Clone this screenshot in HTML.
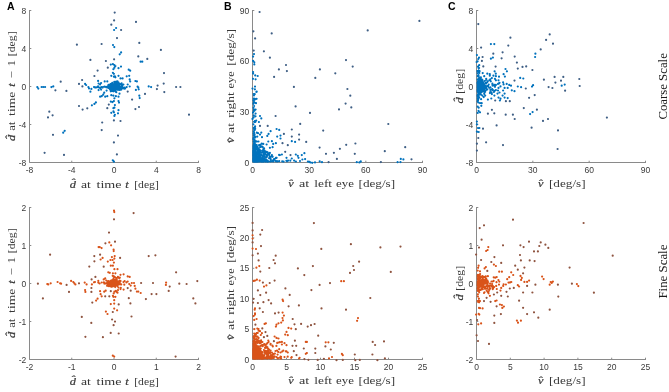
<!DOCTYPE html>
<html><head><meta charset="utf-8"><style>
html,body{margin:0;padding:0;background:#fff;width:669px;height:392px;overflow:hidden}
svg{display:block;will-change:transform}
.tk{font-family:"Liberation Sans",sans-serif;font-size:8.5px;fill:#3a3a3a}
.pl{font-family:"Liberation Sans",sans-serif;font-size:10.5px;font-weight:bold;fill:#000}
.lb{font-family:"Liberation Serif",serif;font-size:11px;fill:#383838}
.it{font-style:italic;stroke:#383838;stroke-width:0.22px}
.rs{font-size:11.5px;fill:#1a1a1a}
</style></head><body>
<svg width="669" height="392" viewBox="0 0 669 392">
<rect width="100%" height="100%" fill="#fff"/>
<path d="M29.5 10.0V162.5H199.0" fill="none" stroke="#8a8a8a" stroke-width="1"/>
<path d="M29.50 162.5v-1.8M71.75 162.5v-1.8M114.00 162.5v-1.8M156.25 162.5v-1.8M198.50 162.5v-1.8M29.5 162.50h1.8M29.5 124.50h1.8M29.5 86.50h1.8M29.5 48.50h1.8M29.5 10.50h1.8" fill="none" stroke="#8a8a8a" stroke-width="1"/>
<text x="29.50" y="172.70" text-anchor="middle" class="tk">-8</text>
<text x="71.75" y="172.70" text-anchor="middle" class="tk">-4</text>
<text x="114.00" y="172.70" text-anchor="middle" class="tk">0</text>
<text x="156.25" y="172.70" text-anchor="middle" class="tk">4</text>
<text x="198.50" y="172.70" text-anchor="middle" class="tk">8</text>
<text x="26.30" y="165.60" text-anchor="end" class="tk">-8</text>
<text x="26.30" y="127.60" text-anchor="end" class="tk">-4</text>
<text x="26.30" y="89.60" text-anchor="end" class="tk">0</text>
<text x="26.30" y="51.60" text-anchor="end" class="tk">4</text>
<text x="26.30" y="13.60" text-anchor="end" class="tk">8</text>
<path d="M252.5 10.0V162.5H423.0" fill="none" stroke="#8a8a8a" stroke-width="1"/>
<path d="M252.50 162.5v-1.8M309.17 162.5v-1.8M365.83 162.5v-1.8M422.50 162.5v-1.8M252.5 162.50h1.8M252.5 111.83h1.8M252.5 61.17h1.8M252.5 10.50h1.8" fill="none" stroke="#8a8a8a" stroke-width="1"/>
<text x="252.50" y="172.70" text-anchor="middle" class="tk">0</text>
<text x="309.17" y="172.70" text-anchor="middle" class="tk">30</text>
<text x="365.83" y="172.70" text-anchor="middle" class="tk">60</text>
<text x="422.50" y="172.70" text-anchor="middle" class="tk">90</text>
<text x="249.30" y="165.60" text-anchor="end" class="tk">0</text>
<text x="249.30" y="114.93" text-anchor="end" class="tk">30</text>
<text x="249.30" y="64.27" text-anchor="end" class="tk">60</text>
<text x="249.30" y="13.60" text-anchor="end" class="tk">90</text>
<path d="M476.5 10.0V162.5H646.0" fill="none" stroke="#8a8a8a" stroke-width="1"/>
<path d="M476.50 162.5v-1.8M532.83 162.5v-1.8M589.17 162.5v-1.8M645.50 162.5v-1.8M476.5 162.50h1.8M476.5 124.50h1.8M476.5 86.50h1.8M476.5 48.50h1.8M476.5 10.50h1.8" fill="none" stroke="#8a8a8a" stroke-width="1"/>
<text x="476.50" y="172.70" text-anchor="middle" class="tk">0</text>
<text x="532.83" y="172.70" text-anchor="middle" class="tk">30</text>
<text x="589.17" y="172.70" text-anchor="middle" class="tk">60</text>
<text x="645.50" y="172.70" text-anchor="middle" class="tk">90</text>
<text x="473.30" y="165.60" text-anchor="end" class="tk">-8</text>
<text x="473.30" y="127.60" text-anchor="end" class="tk">-4</text>
<text x="473.30" y="89.60" text-anchor="end" class="tk">0</text>
<text x="473.30" y="51.60" text-anchor="end" class="tk">4</text>
<text x="473.30" y="13.60" text-anchor="end" class="tk">8</text>
<path d="M29.5 207.0V359.5H199.0" fill="none" stroke="#8a8a8a" stroke-width="1"/>
<path d="M29.50 359.5v-1.8M71.75 359.5v-1.8M114.00 359.5v-1.8M156.25 359.5v-1.8M198.50 359.5v-1.8M29.5 359.50h1.8M29.5 321.50h1.8M29.5 283.50h1.8M29.5 245.50h1.8M29.5 207.50h1.8" fill="none" stroke="#8a8a8a" stroke-width="1"/>
<text x="29.50" y="369.70" text-anchor="middle" class="tk">-2</text>
<text x="71.75" y="369.70" text-anchor="middle" class="tk">-1</text>
<text x="114.00" y="369.70" text-anchor="middle" class="tk">0</text>
<text x="156.25" y="369.70" text-anchor="middle" class="tk">1</text>
<text x="198.50" y="369.70" text-anchor="middle" class="tk">2</text>
<text x="26.30" y="362.60" text-anchor="end" class="tk">-2</text>
<text x="26.30" y="324.60" text-anchor="end" class="tk">-1</text>
<text x="26.30" y="286.60" text-anchor="end" class="tk">0</text>
<text x="26.30" y="248.60" text-anchor="end" class="tk">1</text>
<text x="26.30" y="210.60" text-anchor="end" class="tk">2</text>
<path d="M252.5 207.0V359.5H423.0" fill="none" stroke="#8a8a8a" stroke-width="1"/>
<path d="M252.50 359.5v-1.8M286.50 359.5v-1.8M320.50 359.5v-1.8M354.50 359.5v-1.8M388.50 359.5v-1.8M422.50 359.5v-1.8M252.5 359.50h1.8M252.5 329.10h1.8M252.5 298.70h1.8M252.5 268.30h1.8M252.5 237.90h1.8M252.5 207.50h1.8" fill="none" stroke="#8a8a8a" stroke-width="1"/>
<text x="252.50" y="369.70" text-anchor="middle" class="tk">0</text>
<text x="286.50" y="369.70" text-anchor="middle" class="tk">5</text>
<text x="320.50" y="369.70" text-anchor="middle" class="tk">10</text>
<text x="354.50" y="369.70" text-anchor="middle" class="tk">15</text>
<text x="388.50" y="369.70" text-anchor="middle" class="tk">20</text>
<text x="422.50" y="369.70" text-anchor="middle" class="tk">25</text>
<text x="249.30" y="362.60" text-anchor="end" class="tk">0</text>
<text x="249.30" y="332.20" text-anchor="end" class="tk">5</text>
<text x="249.30" y="301.80" text-anchor="end" class="tk">10</text>
<text x="249.30" y="271.40" text-anchor="end" class="tk">15</text>
<text x="249.30" y="241.00" text-anchor="end" class="tk">20</text>
<text x="249.30" y="210.60" text-anchor="end" class="tk">25</text>
<path d="M476.5 207.0V359.5H646.0" fill="none" stroke="#8a8a8a" stroke-width="1"/>
<path d="M476.50 359.5v-1.8M510.30 359.5v-1.8M544.10 359.5v-1.8M577.90 359.5v-1.8M611.70 359.5v-1.8M645.50 359.5v-1.8M476.5 359.50h1.8M476.5 321.50h1.8M476.5 283.50h1.8M476.5 245.50h1.8M476.5 207.50h1.8" fill="none" stroke="#8a8a8a" stroke-width="1"/>
<text x="476.50" y="369.70" text-anchor="middle" class="tk">0</text>
<text x="510.30" y="369.70" text-anchor="middle" class="tk">5</text>
<text x="544.10" y="369.70" text-anchor="middle" class="tk">10</text>
<text x="577.90" y="369.70" text-anchor="middle" class="tk">15</text>
<text x="611.70" y="369.70" text-anchor="middle" class="tk">20</text>
<text x="645.50" y="369.70" text-anchor="middle" class="tk">25</text>
<text x="473.30" y="362.60" text-anchor="end" class="tk">-2</text>
<text x="473.30" y="324.60" text-anchor="end" class="tk">-1</text>
<text x="473.30" y="286.60" text-anchor="end" class="tk">0</text>
<text x="473.30" y="248.60" text-anchor="end" class="tk">1</text>
<text x="473.30" y="210.60" text-anchor="end" class="tk">2</text>
<text x="7" y="10" class="pl">A</text>
<text x="224" y="10" class="pl">B</text>
<text x="448" y="10" class="pl">C</text>
<text transform="translate(72.95 187.80) scale(1.13 1)" text-anchor="middle" class="lb it">d&#770;</text>
<text x="81.00" y="187.80" textLength="9.90" lengthAdjust="spacingAndGlyphs" class="lb">at</text>
<text x="96.54" y="187.80" textLength="25.04" lengthAdjust="spacingAndGlyphs" class="lb">time</text>
<text transform="translate(127.00 187.80) scale(1.13 1)" text-anchor="middle" class="lb it">t</text>
<text x="134.20" y="187.80" textLength="24.60" lengthAdjust="spacingAndGlyphs" class="lb">[deg]</text>
<text transform="translate(291.05 186.80) scale(1.13 1)" text-anchor="middle" class="lb it">v&#770;</text>
<text x="298.98" y="186.80" textLength="10.26" lengthAdjust="spacingAndGlyphs" class="lb">at</text>
<text x="314.20" y="186.80" textLength="17.92" lengthAdjust="spacingAndGlyphs" class="lb">left</text>
<text x="335.98" y="186.80" textLength="17.92" lengthAdjust="spacingAndGlyphs" class="lb">eye</text>
<text x="358.54" y="186.80" textLength="36.60" lengthAdjust="spacingAndGlyphs" class="lb">[deg/s]</text>
<text transform="translate(540.80 186.80) scale(1.13 1)" text-anchor="middle" class="lb it">v&#770;</text>
<text x="548.98" y="186.80" textLength="36.60" lengthAdjust="spacingAndGlyphs" class="lb">[deg/s]</text>
<text transform="translate(15.20 138.00) rotate(-90) scale(1.13 1)" text-anchor="middle" class="lb it">d&#770;</text>
<text transform="translate(15.20 130.78) rotate(-90)" textLength="9.12" lengthAdjust="spacingAndGlyphs" class="lb">at</text>
<text transform="translate(15.20 115.90) rotate(-90)" textLength="24.24" lengthAdjust="spacingAndGlyphs" class="lb">time</text>
<text transform="translate(15.20 85.00) rotate(-90) scale(1.13 1)" text-anchor="middle" class="lb it">t</text>
<text transform="translate(15.20 74.80) rotate(-90) scale(1.13 1)" text-anchor="middle" class="lb">&#8722;</text>
<text transform="translate(15.20 63.25) rotate(-90) scale(1.13 1)" text-anchor="middle" class="lb">1</text>
<text transform="translate(15.20 56.24) rotate(-90)" textLength="24.82" lengthAdjust="spacingAndGlyphs" class="lb">[deg]</text>
<text transform="translate(234.30 140.25) rotate(-90) scale(1.13 1)" text-anchor="middle" class="lb it">v&#770;</text>
<text transform="translate(234.30 132.90) rotate(-90)" textLength="10.02" lengthAdjust="spacingAndGlyphs" class="lb">at</text>
<text transform="translate(234.30 117.80) rotate(-90)" textLength="25.60" lengthAdjust="spacingAndGlyphs" class="lb">right</text>
<text transform="translate(234.30 88.46) rotate(-90)" textLength="17.24" lengthAdjust="spacingAndGlyphs" class="lb">eye</text>
<text transform="translate(234.30 65.70) rotate(-90)" textLength="36.62" lengthAdjust="spacingAndGlyphs" class="lb">[deg/s]</text>
<text transform="translate(462.80 100.50) rotate(-90) scale(1.13 1)" text-anchor="middle" class="lb it">d&#770;</text>
<text transform="translate(462.80 93.80) rotate(-90)" textLength="24.94" lengthAdjust="spacingAndGlyphs" class="lb">[deg]</text>
<text transform="translate(72.95 384.80) scale(1.13 1)" text-anchor="middle" class="lb it">d&#770;</text>
<text x="81.00" y="384.80" textLength="9.90" lengthAdjust="spacingAndGlyphs" class="lb">at</text>
<text x="96.54" y="384.80" textLength="25.04" lengthAdjust="spacingAndGlyphs" class="lb">time</text>
<text transform="translate(127.00 384.80) scale(1.13 1)" text-anchor="middle" class="lb it">t</text>
<text x="134.20" y="384.80" textLength="24.60" lengthAdjust="spacingAndGlyphs" class="lb">[deg]</text>
<text transform="translate(291.05 383.80) scale(1.13 1)" text-anchor="middle" class="lb it">v&#770;</text>
<text x="298.98" y="383.80" textLength="10.26" lengthAdjust="spacingAndGlyphs" class="lb">at</text>
<text x="314.20" y="383.80" textLength="17.92" lengthAdjust="spacingAndGlyphs" class="lb">left</text>
<text x="335.98" y="383.80" textLength="17.92" lengthAdjust="spacingAndGlyphs" class="lb">eye</text>
<text x="358.54" y="383.80" textLength="36.60" lengthAdjust="spacingAndGlyphs" class="lb">[deg/s]</text>
<text transform="translate(540.80 383.80) scale(1.13 1)" text-anchor="middle" class="lb it">v&#770;</text>
<text x="548.98" y="383.80" textLength="36.60" lengthAdjust="spacingAndGlyphs" class="lb">[deg/s]</text>
<text transform="translate(15.20 335.00) rotate(-90) scale(1.13 1)" text-anchor="middle" class="lb it">d&#770;</text>
<text transform="translate(15.20 327.78) rotate(-90)" textLength="9.12" lengthAdjust="spacingAndGlyphs" class="lb">at</text>
<text transform="translate(15.20 312.90) rotate(-90)" textLength="24.24" lengthAdjust="spacingAndGlyphs" class="lb">time</text>
<text transform="translate(15.20 282.00) rotate(-90) scale(1.13 1)" text-anchor="middle" class="lb it">t</text>
<text transform="translate(15.20 271.80) rotate(-90) scale(1.13 1)" text-anchor="middle" class="lb">&#8722;</text>
<text transform="translate(15.20 260.25) rotate(-90) scale(1.13 1)" text-anchor="middle" class="lb">1</text>
<text transform="translate(15.20 253.24) rotate(-90)" textLength="24.82" lengthAdjust="spacingAndGlyphs" class="lb">[deg]</text>
<text transform="translate(234.30 337.25) rotate(-90) scale(1.13 1)" text-anchor="middle" class="lb it">v&#770;</text>
<text transform="translate(234.30 329.90) rotate(-90)" textLength="10.02" lengthAdjust="spacingAndGlyphs" class="lb">at</text>
<text transform="translate(234.30 314.80) rotate(-90)" textLength="25.60" lengthAdjust="spacingAndGlyphs" class="lb">right</text>
<text transform="translate(234.30 285.46) rotate(-90)" textLength="17.24" lengthAdjust="spacingAndGlyphs" class="lb">eye</text>
<text transform="translate(234.30 262.70) rotate(-90)" textLength="36.62" lengthAdjust="spacingAndGlyphs" class="lb">[deg/s]</text>
<text transform="translate(462.80 297.50) rotate(-90) scale(1.13 1)" text-anchor="middle" class="lb it">d&#770;</text>
<text transform="translate(462.80 290.80) rotate(-90)" textLength="24.94" lengthAdjust="spacingAndGlyphs" class="lb">[deg]</text>
<text transform="translate(666.90 86.40) rotate(-90)" x="0" y="0" text-anchor="middle" textLength="66.40" lengthAdjust="spacingAndGlyphs" class="lb rs">Coarse Scale</text>
<text transform="translate(667.00 271.60) rotate(-90)" x="0" y="0" text-anchor="middle" textLength="54.00" lengthAdjust="spacingAndGlyphs" class="lb rs">Fine Scale</text>
<path d="M252.5 150.0 L254.5 150.0 L256.5 154.0 L260.0 158.0 L263.0 160.8 L265.0 161.6 L252.5 161.8Z" fill="#0072BD"/>
<path d="M252.5 348.0 L254.5 348.0 L256.5 352.0 L260.0 355.5 L263.0 358.0 L265.0 358.8 L252.5 358.8Z" fill="#D95319"/>
<path d="M116.1 28.0h0M114.1 30.0h0M113.0 45.0h0M114.3 47.1h0M121.1 52.4h0M119.7 54.3h0M140.6 61.7h0M142.3 61.7h0M37.3 87.1h0M38.3 88.6h0M41.6 87.0h0M43.3 87.0h0M45.1 87.0h0M51.4 87.1h0M53.3 86.4h0M85.1 83.9h0M86.1 85.0h0M88.4 87.1h0M89.0 88.4h0M90.4 91.7h0M91.4 88.9h0M94.0 87.0h0M95.0 87.4h0M96.1 87.4h0M97.6 87.1h0M91.9 105.3h0M94.4 103.9h0M95.9 102.4h0M110.8 64.6h0M112.9 64.1h0M114.4 65.1h0M115.4 66.1h0M114.4 67.7h0M113.4 69.2h0M118.5 68.2h0M121.0 66.6h0M128.7 69.7h0M130.2 70.7h0M112.9 72.8h0M113.9 73.8h0M111.3 75.8h0M114.9 76.3h0M118.5 75.8h0M115.4 77.3h0M120.5 78.4h0M122.6 78.4h0M126.7 76.3h0M129.2 75.8h0M129.7 79.4h0M130.2 81.4h0M98.1 80.9h0M98.6 83.5h0M100.1 84.5h0M101.1 83.0h0M104.7 81.4h0M107.3 81.4h0M117.5 81.4h0M99.1 87.6h0M98.6 90.1h0M101.1 89.6h0M127.7 84.5h0M129.7 86.5h0M126.7 87.0h0M124.6 87.6h0M120.5 88.6h0M104.2 92.7h0M103.2 94.7h0M100.1 96.7h0M101.7 96.2h0M105.2 96.7h0M107.3 96.2h0M111.3 95.2h0M113.4 95.7h0M114.4 98.3h0M115.9 96.2h0M119.5 93.7h0M118.5 96.7h0M135.4 81.0h0M136.9 81.4h0M137.6 86.7h0M138.3 87.4h0M135.9 89.9h0M138.7 89.3h0M148.7 86.4h0M151.1 87.1h0M139.3 95.7h0M139.7 98.1h0M110.8 101.6h0M112.4 102.1h0M113.9 101.1h0M118.5 101.1h0M119.0 102.6h0M114.9 105.1h0M113.4 108.2h0M114.4 107.7h0M118.5 110.2h0M111.3 112.8h0M113.4 111.3h0M113.9 112.3h0M118.0 113.3h0M114.4 115.9h0M114.9 114.8h0M63.2 132.7h0M64.7 130.8h0M112.8 160.3h0M113.9 161.7h0M119.5 89.9h0M114.6 85.6h0M109.9 87.2h0M110.2 84.4h0M115.1 87.4h0M116.5 85.4h0M114.3 87.0h0M108.3 88.1h0M115.6 91.6h0M115.1 86.8h0M119.2 87.5h0M117.9 86.4h0M115.2 89.0h0M117.1 87.3h0M110.0 87.9h0M114.6 88.5h0M115.2 89.2h0M114.1 87.5h0M117.0 85.0h0M112.7 86.1h0M122.2 86.9h0M116.9 88.3h0M113.2 84.2h0M118.2 86.3h0M117.2 84.6h0M112.5 89.5h0M120.0 84.6h0M109.0 87.0h0M117.2 87.4h0M115.5 85.2h0M116.6 89.2h0M112.6 84.4h0M111.3 88.5h0M107.4 86.9h0M110.3 86.9h0M113.3 87.1h0M120.3 87.9h0M119.6 86.8h0M112.4 87.8h0M103.0 87.0h0M114.9 84.8h0M116.2 86.0h0M104.5 86.7h0M110.4 86.1h0M113.7 89.5h0M114.7 87.0h0M115.9 83.7h0M119.3 85.1h0M116.1 85.0h0M110.4 86.3h0M121.9 88.4h0M111.9 86.6h0M109.7 87.0h0M112.0 88.5h0M108.9 86.5h0M110.9 85.7h0M117.1 87.3h0M116.6 89.4h0M118.9 84.5h0M116.4 83.8h0M114.0 90.7h0M113.5 86.4h0M115.0 87.1h0M114.4 85.7h0M118.6 88.8h0M113.5 87.7h0M116.9 89.1h0M115.9 88.4h0M113.2 85.1h0M112.3 89.0h0M118.2 87.4h0M112.0 87.7h0M121.0 89.7h0M111.6 87.0h0M108.5 84.9h0M115.1 87.1h0M118.2 89.5h0M117.6 89.6h0M112.1 85.0h0M116.3 92.2h0M115.7 84.9h0M115.3 89.8h0M110.2 88.6h0M111.9 89.5h0M117.4 87.7h0M122.3 86.3h0M111.6 90.6h0M110.8 91.3h0M114.1 85.1h0M114.3 87.3h0M115.1 86.7h0M118.6 82.7h0M112.1 86.6h0M121.6 83.3h0M112.9 84.9h0M111.6 88.3h0M115.9 89.8h0M111.9 87.6h0M119.0 88.8h0M113.0 89.2h0M110.6 90.5h0M114.9 86.9h0M115.4 88.7h0M121.3 86.8h0M112.8 88.2h0M110.8 83.9h0M117.6 86.4h0M118.8 85.1h0M102.7 87.6h0M114.9 90.1h0M116.4 87.7h0M116.6 86.4h0M114.6 84.5h0M116.4 85.6h0M112.5 88.4h0M118.0 85.2h0M122.3 86.0h0M117.6 88.9h0M115.2 87.4h0M121.5 88.8h0M116.1 83.6h0M111.3 89.3h0M115.1 85.3h0M111.7 86.5h0M117.0 87.8h0M118.3 85.5h0M118.2 86.1h0M113.1 90.4h0M114.6 86.8h0M113.5 86.4h0M120.5 89.7h0M117.2 87.4h0M118.5 87.0h0M116.1 87.9h0M114.7 90.2h0M121.3 89.6h0M106.6 90.6h0M117.1 86.2h0M114.2 89.3h0M119.0 88.7h0M114.9 87.2h0M117.6 86.9h0M110.7 85.9h0M113.7 87.7h0M123.4 84.5h0M116.2 86.9h0M115.5 89.7h0M119.3 86.8h0M112.1 84.5h0M114.0 89.5h0M113.2 88.4h0M117.1 87.9h0M118.6 86.9h0M111.0 84.9h0M118.0 86.4h0M113.1 88.7h0M111.1 90.5h0M117.0 86.1h0M111.8 89.2h0M109.6 85.9h0M114.3 87.5h0M114.4 87.8h0M112.8 86.9h0M119.4 88.3h0M112.5 90.4h0M106.3 87.3h0M117.0 88.9h0M114.7 86.4h0M116.6 86.7h0M116.2 81.7h0M115.8 85.6h0M118.1 88.5h0M117.2 86.3h0M116.0 86.4h0M115.2 86.8h0M110.8 90.9h0M117.2 83.2h0M117.9 84.5h0M113.4 86.0h0M112.2 87.6h0M113.0 84.3h0M114.3 87.8h0M121.4 86.3h0M109.5 86.4h0M116.9 85.4h0M111.4 88.2h0M114.3 87.5h0M111.8 85.5h0M113.0 86.8h0M113.0 87.9h0M116.5 88.1h0M116.2 85.4h0M109.8 88.6h0M114.4 87.3h0M109.7 86.7h0M111.7 85.5h0M111.8 84.3h0M114.6 89.3h0M111.5 87.3h0M109.9 88.4h0M121.8 84.8h0M113.4 89.8h0M115.8 87.3h0M106.1 86.8h0M118.0 89.8h0M116.9 86.0h0M111.6 83.6h0M110.0 89.2h0M113.8 84.6h0M119.6 83.9h0M119.3 86.5h0M115.7 88.4h0M115.3 89.5h0M114.4 86.5h0M111.7 84.4h0M111.5 89.0h0M117.6 89.7h0M125.2 88.5h0M116.3 84.6h0M113.3 91.3h0M117.7 87.0h0M116.3 85.2h0M108.9 85.8h0M100.4 87.9h0M120.6 86.9h0M116.6 86.1h0M117.2 87.9h0M124.3 88.7h0M117.5 87.0h0M108.9 86.5h0M118.3 87.7h0M114.4 88.8h0M118.5 87.1h0M113.1 87.2h0M108.1 86.1h0M116.6 86.5h0M112.5 88.3h0M113.0 88.4h0M114.2 88.6h0M117.3 85.3h0M122.3 86.9h0M101.5 87.2h0M115.3 85.8h0M110.4 87.6h0M123.5 88.2h0M122.2 88.2h0M98.1 86.4h0M115.5 84.4h0M119.3 88.0h0M109.3 86.7h0M113.1 87.0h0M114.0 87.1h0M113.0 88.5h0M113.7 90.4h0M114.3 81.9h0M112.6 87.3h0M113.5 88.7h0M114.8 87.2h0M112.3 82.9h0M114.6 83.4h0M115.1 86.8h0M114.5 84.0h0M113.9 76.7h0M113.8 89.1h0M113.1 84.2h0M113.9 87.3h0M113.2 89.5h0M112.4 91.0h0M112.6 84.2h0M115.3 83.6h0" stroke="#0072BD" stroke-width="2.2" stroke-linecap="round" fill="none"/>
<path d="M76.9 44.7h0M90.4 59.9h0M114.7 12.6h0M114.1 20.4h0M136.0 21.9h0M111.3 24.7h0M121.1 30.0h0M117.0 38.1h0M101.6 44.0h0M139.3 42.9h0M160.9 49.9h0M138.3 56.4h0M147.3 58.9h0M114.1 59.3h0M105.9 61.0h0M55.4 90.3h0M60.7 81.7h0M66.4 90.9h0M79.0 83.9h0M82.1 80.0h0M82.4 86.4h0M94.4 76.0h0M97.6 70.6h0M79.0 106.0h0M82.6 109.6h0M87.3 108.3h0M49.3 111.7h0M52.6 115.3h0M48.0 117.4h0M107.8 67.7h0M127.7 91.6h0M157.6 85.6h0M156.9 89.1h0M164.0 73.1h0M163.7 83.6h0M164.3 92.1h0M145.0 93.9h0M139.0 107.0h0M135.4 109.1h0M176.1 87.0h0M180.4 87.0h0M189.0 114.7h0M132.1 99.6h0M108.8 104.6h0M107.3 108.2h0M113.9 120.4h0M120.5 121.0h0M102.2 122.5h0M101.7 130.1h0M118.0 135.6h0M53.0 134.8h0M44.6 152.8h0M64.0 154.9h0M113.9 142.4h0M116.9 154.4h0" stroke="#3f5f85" stroke-width="2.2" stroke-linecap="round" fill="none"/>
<path d="M254.0 54.1h0M253.1 56.6h0M253.1 60.9h0M253.1 72.1h0M253.1 73.6h0M257.7 76.0h0M255.6 79.3h0M256.7 91.7h0M254.6 99.7h0M253.7 102.6h0M254.1 106.0h0M255.6 113.6h0M260.0 116.0h0M261.3 118.4h0M256.2 120.6h0M258.9 122.0h0M276.6 129.0h0M279.2 129.9h0M270.6 131.2h0M268.6 133.9h0M267.3 135.9h0M261.3 132.6h0M258.0 133.2h0M260.0 134.6h0M257.3 136.6h0M262.0 137.2h0M277.2 136.6h0M280.5 135.6h0M280.5 138.5h0M295.1 141.9h0M291.8 141.2h0M275.9 143.2h0M271.9 141.2h0M273.2 143.9h0M266.6 144.5h0M263.3 143.9h0M269.9 147.8h0M272.6 147.2h0M279.9 155.1h0M281.9 154.5h0M295.8 154.5h0M297.8 155.8h0M304.4 153.2h0M301.8 155.1h0M271.9 155.1h0M276.6 157.8h0M286.5 157.8h0M291.8 158.5h0M298.5 157.8h0M302.4 159.5h0M305.1 159.1h0M309.1 161.8h0M310.4 162.4h0M312.3 162.8h0M315.0 162.4h0M322.0 162.2h0M356.8 162.2h0M360.8 161.4h0M359.4 162.4h0M400.8 158.9h0M403.4 159.4h0M397.6 162.2h0M400.5 162.1h0M253.0 78.8h0M252.5 88.6h0M253.4 103.8h0M253.0 112.7h0M253.7 115.4h0M252.5 118.9h0M253.4 124.3h0M255.1 126.4h0M256.6 154.3h0M258.6 156.2h0M258.5 159.4h0M258.5 156.5h0M269.1 153.3h0M263.7 153.7h0M262.6 156.9h0M255.1 160.7h0M259.9 150.1h0M257.2 161.5h0M263.2 158.5h0M256.3 161.6h0M256.8 154.3h0M255.8 159.9h0M258.9 161.6h0M256.7 145.0h0M259.5 159.4h0M259.5 156.9h0M253.9 161.1h0M265.5 160.6h0M253.4 151.8h0M256.9 159.7h0M256.8 154.5h0M253.6 156.1h0M260.0 152.4h0M254.4 156.9h0M254.1 157.6h0M253.6 153.1h0M264.6 160.1h0M254.0 142.6h0M259.9 151.4h0M253.4 148.7h0M258.3 160.2h0M255.9 153.9h0M261.7 161.2h0M258.4 161.4h0M274.2 159.0h0M267.2 154.7h0M258.1 160.7h0M257.0 161.6h0M253.4 155.0h0M255.2 154.1h0M254.2 154.9h0M260.1 160.3h0M253.4 159.5h0M256.6 161.6h0M253.7 161.6h0M258.0 149.3h0M254.0 161.6h0M259.8 152.4h0M272.5 156.8h0M255.0 151.6h0M253.4 155.4h0M253.4 159.4h0M256.6 159.7h0M253.6 160.9h0M262.8 158.8h0M257.7 161.1h0M260.0 160.1h0M257.9 148.1h0M283.6 161.6h0M262.1 150.8h0M254.8 159.6h0M257.7 147.4h0M255.6 149.8h0M261.0 161.5h0M267.2 161.6h0M253.4 155.9h0M253.4 159.6h0M253.4 158.8h0M263.5 148.3h0M253.4 161.6h0M263.5 161.6h0M254.4 161.6h0M253.4 161.6h0M258.6 154.3h0M259.5 151.3h0M259.0 159.5h0M258.5 141.5h0M258.7 160.8h0M253.4 146.1h0M257.9 159.9h0M258.1 157.6h0M256.9 161.6h0M255.1 159.3h0M253.8 149.8h0M255.8 156.0h0M260.0 154.3h0M260.2 154.1h0M254.2 140.0h0M253.5 147.4h0M264.1 151.0h0M253.4 161.6h0M262.6 158.7h0M255.3 137.4h0M253.4 158.0h0M256.0 161.6h0M255.5 155.1h0M265.3 161.6h0M257.0 161.6h0M262.2 161.6h0M253.4 159.6h0M260.4 160.2h0M253.4 153.0h0M262.4 150.9h0M254.7 159.2h0M254.2 157.6h0M254.9 160.0h0M261.7 143.7h0M257.8 161.6h0M258.8 158.9h0M279.1 154.9h0M263.3 155.3h0M257.1 148.9h0M263.2 160.4h0M253.5 159.7h0M256.9 161.6h0M255.0 157.4h0M253.4 152.4h0M258.8 160.2h0M254.6 159.9h0M254.9 154.2h0M256.7 158.0h0M253.5 147.8h0M254.9 160.1h0M253.4 139.2h0M256.4 147.9h0M268.3 141.5h0M262.6 146.9h0M267.8 152.8h0M253.4 158.0h0M257.6 133.1h0M261.7 155.2h0M260.7 159.8h0M269.6 156.3h0M255.6 158.8h0M275.9 157.9h0M253.6 161.5h0M259.5 157.5h0M266.7 161.3h0M255.7 154.7h0M253.4 161.6h0M257.2 160.6h0M253.4 160.7h0M258.5 158.0h0M253.4 161.6h0M263.9 156.3h0M253.6 150.6h0M253.4 159.7h0M263.8 155.1h0M254.5 149.2h0M258.0 150.5h0M265.9 159.2h0M259.3 157.8h0M269.9 152.9h0M260.3 152.4h0M290.3 160.7h0M253.8 154.3h0M261.3 158.2h0M256.5 159.4h0M254.7 146.7h0M254.6 161.6h0M254.1 158.7h0M254.3 156.1h0M253.4 160.2h0M253.5 156.0h0M254.7 98.9h0M254.5 148.4h0M254.5 149.1h0M254.0 148.4h0M254.4 153.1h0M255.6 144.6h0M253.7 149.8h0M254.2 146.6h0M256.0 159.3h0M254.2 144.3h0M255.0 147.5h0M253.5 154.2h0M255.3 121.9h0M254.8 142.6h0M255.2 128.8h0M254.8 153.8h0M255.1 154.1h0M253.8 137.6h0M254.3 151.5h0M253.5 160.3h0M254.0 161.6h0M254.2 159.1h0M253.5 146.5h0M255.4 156.4h0M254.2 149.5h0M253.4 138.3h0M253.8 135.5h0M254.4 150.5h0M253.7 98.5h0M254.5 139.8h0M253.8 101.4h0M253.7 157.8h0M254.2 150.7h0M253.5 107.8h0M254.7 130.1h0M254.3 160.8h0M255.9 148.1h0M255.5 148.7h0M254.8 99.6h0M255.4 160.5h0M254.4 142.5h0M253.7 160.2h0M253.5 150.7h0M254.2 134.1h0M254.5 142.2h0M254.8 160.9h0M254.5 156.2h0M254.3 149.7h0M253.8 127.9h0M253.7 160.5h0M255.0 158.5h0M254.8 149.3h0M255.2 75.4h0M254.4 156.4h0M265.1 160.1h0M256.4 161.5h0M263.1 161.6h0M253.4 161.0h0M294.1 160.6h0M307.9 161.5h0M261.8 161.5h0M275.3 160.7h0M257.6 161.3h0M272.1 161.2h0M256.0 161.3h0M265.7 161.4h0M264.7 160.2h0M267.5 160.6h0M257.8 161.2h0M271.5 161.0h0M259.8 161.5h0M262.7 161.1h0M255.7 161.1h0M286.4 160.8h0M253.5 161.3h0M258.8 160.8h0M279.2 161.2h0M288.0 160.7h0M258.9 161.3h0M254.7 160.9h0M254.0 161.3h0M264.9 161.2h0M271.0 161.3h0M256.6 160.7h0M287.0 161.3h0M261.3 160.7h0M258.3 161.5h0M267.8 161.6h0M270.8 161.2h0M319.7 161.3h0M264.2 161.1h0M253.4 160.8h0M257.1 161.4h0M276.0 161.3h0M253.8 161.5h0M273.2 161.4h0M257.5 161.1h0M253.4 161.2h0M260.7 161.2h0M295.9 161.5h0M270.7 161.3h0M257.6 161.2h0M300.0 161.0h0M259.5 161.5h0M282.2 161.3h0M267.4 160.7h0M270.7 161.1h0M268.0 161.1h0M264.8 160.7h0M260.5 161.4h0M265.2 160.8h0M253.4 161.0h0M256.4 161.2h0M261.6 161.6h0M254.3 153.7h0M253.7 141.4h0M254.6 159.4h0M253.6 149.4h0M254.3 140.5h0M254.6 110.5h0M253.7 161.6h0M255.2 152.2h0M253.7 94.0h0M254.0 158.2h0M254.0 110.9h0M254.0 109.7h0M254.7 157.6h0M255.6 109.5h0M254.4 159.0h0M254.3 136.8h0M253.6 117.5h0M255.2 136.6h0M256.4 91.9h0M253.6 133.7h0M254.5 102.5h0M254.5 145.3h0M253.7 147.1h0M255.0 86.6h0M254.8 161.0h0M254.3 144.7h0M255.2 161.6h0M253.8 161.3h0M253.9 142.6h0M253.8 150.2h0M253.9 95.4h0M256.8 132.7h0M254.1 154.6h0M255.5 116.3h0M253.5 150.1h0M254.9 157.7h0M253.8 152.0h0M256.0 103.2h0M254.8 121.1h0M254.6 149.3h0M253.8 152.8h0M253.9 128.9h0M254.6 134.3h0M253.8 131.2h0M253.4 100.3h0M254.2 143.8h0M254.9 150.8h0M254.2 161.6h0M256.6 98.8h0M255.1 157.1h0M254.9 127.2h0M254.3 64.4h0M254.0 132.6h0M253.7 144.7h0M254.7 143.5h0M253.7 156.5h0M255.3 146.2h0M254.9 89.3h0M253.8 111.2h0M254.1 159.3h0M254.3 161.6h0M254.1 121.8h0M253.7 131.7h0M253.7 157.8h0M254.3 62.3h0M254.7 161.6h0M256.0 148.4h0M254.7 94.2h0M254.9 140.9h0M257.5 146.7h0M255.5 150.6h0M262.7 150.4h0M255.7 156.3h0M254.4 143.9h0M258.6 161.5h0M270.4 161.3h0M269.1 158.2h0M258.5 154.4h0M255.5 150.5h0M259.1 145.1h0M260.4 156.0h0M253.6 151.4h0M266.7 151.9h0M258.1 155.3h0M258.7 148.8h0M255.6 149.4h0M262.0 152.5h0M254.1 145.5h0M272.6 156.7h0M277.0 161.1h0M264.5 150.5h0M259.5 151.0h0M273.3 160.1h0M255.7 159.2h0M261.1 154.3h0M254.0 154.4h0M277.3 161.4h0M265.1 154.6h0M254.6 143.0h0M256.8 141.5h0M256.8 141.6h0M255.5 161.6h0M258.2 155.3h0M260.3 144.8h0M266.8 156.9h0M265.0 152.1h0M260.3 157.2h0M265.2 153.6h0M255.8 154.6h0M254.0 143.5h0M261.2 146.7h0M263.2 152.5h0M260.1 147.2h0M257.5 151.6h0M255.0 160.3h0M256.6 157.4h0M263.0 156.9h0M254.5 145.5h0M270.8 159.3h0M255.6 141.1h0M267.4 152.0h0M266.2 154.8h0M257.4 154.4h0M265.2 151.4h0M274.1 159.1h0M253.8 159.3h0M257.4 146.5h0M267.8 152.8h0M257.7 153.3h0M264.1 152.5h0M255.0 144.0h0M261.7 146.7h0M255.0 160.1h0M265.1 157.2h0M262.4 158.8h0M263.7 152.2h0M267.1 154.8h0M269.2 154.6h0M264.1 148.4h0M268.7 161.5h0M270.3 156.7h0M258.2 152.0h0M263.7 149.7h0M254.9 153.3h0M255.8 146.0h0M259.2 152.4h0M266.8 152.2h0M256.2 152.2h0M260.2 160.5h0M259.1 153.2h0M256.6 161.0h0M270.3 158.2h0M260.1 151.1h0M262.8 158.6h0M271.7 156.5h0M254.0 145.4h0M268.8 154.7h0M258.8 158.8h0M257.6 159.5h0M262.3 161.4h0M266.9 156.2h0M266.4 155.0h0M257.5 149.9h0M264.2 158.6h0" stroke="#0072BD" stroke-width="2.2" stroke-linecap="round" fill="none"/>
<path d="M259.6 12.0h0M253.4 31.3h0M271.7 33.4h0M255.1 38.4h0M253.7 50.6h0M263.9 51.3h0M269.9 57.7h0M419.4 20.9h0M367.7 30.4h0M346.0 60.1h0M286.0 65.0h0M278.9 69.4h0M286.9 71.1h0M274.1 76.9h0M319.9 69.4h0M315.3 77.9h0M335.3 73.3h0M293.9 86.9h0M295.6 106.4h0M310.0 112.9h0M352.7 66.6h0M347.4 89.0h0M350.3 95.7h0M345.6 103.6h0M351.3 107.4h0M339.0 109.4h0M275.6 116.0h0M300.2 123.9h0M260.0 125.9h0M267.7 125.9h0M291.8 129.5h0M283.9 133.9h0M291.8 136.6h0M299.1 134.6h0M299.1 139.6h0M306.2 141.9h0M282.5 143.2h0M287.8 145.2h0M285.2 151.8h0M290.5 155.1h0M323.2 130.6h0M319.6 147.6h0M326.0 153.8h0M333.9 152.8h0M336.9 158.9h0M339.9 148.8h0M346.2 144.8h0M355.4 143.5h0M354.8 153.8h0M328.6 162.2h0M388.3 124.0h0M405.2 147.2h0M384.8 151.2h0M411.5 159.3h0M380.9 162.1h0" stroke="#3f5f85" stroke-width="2.2" stroke-linecap="round" fill="none"/>
<path d="M490.9 44.1h0M494.3 44.1h0M476.9 55.1h0M535.4 53.7h0M479.0 57.7h0M490.9 58.7h0M492.9 57.6h0M535.1 57.0h0M477.6 61.3h0M476.6 62.0h0M505.5 69.0h0M506.9 71.3h0M494.6 71.3h0M520.2 77.9h0M504.9 76.6h0M533.1 85.2h0M517.8 86.5h0M521.1 87.2h0M511.8 90.3h0M514.5 91.2h0M499.9 100.5h0M487.9 99.6h0M491.3 98.5h0M481.3 105.8h0M480.0 103.1h0M482.7 73.1h0M487.3 73.7h0M489.8 74.2h0M489.8 75.7h0M484.2 76.2h0M493.4 75.7h0M495.9 76.2h0M499.0 76.7h0M486.2 78.8h0M490.3 79.3h0M494.9 78.8h0M495.9 80.3h0M498.5 80.3h0M487.8 81.3h0M490.8 81.3h0M492.4 84.9h0M494.4 84.9h0M495.9 84.9h0M498.0 83.9h0M499.5 82.8h0M503.1 82.3h0M503.6 84.4h0M506.7 83.9h0M509.2 84.9h0M500.5 86.4h0M498.5 87.9h0M504.6 87.9h0M507.7 87.9h0M495.9 90.0h0M492.4 90.0h0M490.3 92.0h0M493.9 92.0h0M498.0 90.5h0M503.1 90.5h0M499.5 92.5h0M491.9 94.1h0M494.4 95.6h0M497.5 93.6h0M504.6 93.6h0M502.6 95.6h0M498.5 97.6h0M500.5 98.7h0M504.6 97.6h0M507.7 98.1h0M485.2 95.6h0M483.7 97.1h0M481.1 99.2h0M481.7 103.2h0M564.7 84.6h0M561.7 85.7h0M532.0 86.6h0M532.6 112.1h0M480.0 112.3h0M530.1 114.1h0M476.9 121.6h0M476.9 124.4h0M478.0 128.0h0M479.4 128.0h0M476.9 131.6h0M478.7 132.0h0M479.2 93.7h0M490.5 87.4h0M485.2 85.5h0M478.5 84.4h0M482.4 95.6h0M478.2 83.6h0M480.4 83.4h0M482.7 86.9h0M486.4 86.3h0M481.4 81.7h0M481.0 84.6h0M482.4 86.6h0M478.0 85.0h0M480.2 84.4h0M480.9 77.3h0M478.5 88.5h0M477.6 90.2h0M478.6 86.3h0M479.3 78.5h0M481.5 81.3h0M478.8 83.4h0M479.8 86.4h0M479.3 89.0h0M479.2 90.3h0M478.3 88.6h0M478.1 84.1h0M480.3 90.7h0M480.7 82.0h0M481.8 86.2h0M478.5 88.9h0M479.0 86.5h0M478.1 91.2h0M478.0 87.2h0M482.8 89.6h0M480.1 88.4h0M484.2 90.8h0M480.4 83.8h0M478.3 86.0h0M480.7 92.8h0M477.8 90.1h0M482.0 83.2h0M480.5 90.9h0M478.0 85.8h0M478.5 86.9h0M479.1 86.0h0M491.5 92.4h0M479.0 88.6h0M481.6 85.0h0M479.0 85.7h0M483.2 86.9h0M478.3 84.3h0M482.9 87.9h0M480.5 82.7h0M478.5 83.2h0M477.8 88.7h0M483.0 84.4h0M487.6 86.0h0M483.8 86.0h0M480.8 87.3h0M479.9 89.7h0M478.0 91.9h0M483.1 84.1h0M479.1 88.9h0M481.6 86.3h0M478.5 89.0h0M478.3 87.2h0M482.2 84.2h0M480.6 90.1h0M478.6 83.7h0M485.7 83.1h0M479.8 93.0h0M482.3 79.8h0M479.3 87.0h0M483.3 88.8h0M478.0 83.5h0M477.7 85.8h0M478.4 89.2h0M485.9 83.2h0M485.2 91.7h0M477.7 90.2h0M479.4 78.8h0M480.5 90.4h0M478.3 82.8h0M478.3 86.9h0M479.0 94.5h0M482.4 80.1h0M477.8 90.5h0M483.3 85.0h0M478.2 91.9h0M478.7 93.5h0M477.7 76.2h0M483.4 87.1h0M479.2 93.6h0M483.5 86.9h0M480.9 81.0h0M479.6 92.0h0M486.3 79.7h0M479.7 84.7h0M479.4 84.5h0M478.1 85.5h0M480.4 88.9h0M484.0 84.9h0M482.6 87.8h0M499.0 83.5h0M482.6 85.6h0M480.3 86.4h0M477.6 89.9h0M479.1 85.3h0M480.2 84.1h0M479.7 83.6h0M480.8 89.4h0M479.8 84.0h0M482.9 89.3h0M478.9 87.2h0M478.4 88.8h0M478.0 86.0h0M478.8 80.5h0M495.0 86.8h0M483.7 86.4h0M477.8 86.6h0M480.8 88.4h0M488.7 84.6h0M480.2 82.7h0M477.8 85.0h0M478.2 89.8h0M477.9 86.1h0M478.7 86.8h0M478.4 84.4h0M478.6 81.4h0M478.7 87.9h0M484.2 93.8h0M477.8 86.2h0M478.8 93.6h0M478.1 84.0h0M479.5 83.3h0M477.7 91.7h0M478.8 87.2h0M477.7 79.7h0M480.4 83.4h0M479.4 80.9h0M489.2 87.8h0M478.0 88.9h0M480.4 89.2h0M478.3 89.2h0M477.8 90.4h0M488.2 86.4h0M481.7 88.8h0M477.6 95.4h0M490.4 89.9h0M480.2 87.8h0M477.6 87.3h0M483.0 85.7h0M477.7 84.8h0M478.7 86.8h0M479.8 84.7h0M481.0 89.8h0M478.3 89.5h0M478.7 92.2h0M486.2 83.5h0M477.7 89.0h0M477.7 91.2h0M481.1 90.3h0M487.3 82.1h0M478.9 89.5h0M477.8 82.3h0M482.8 89.9h0M487.3 89.5h0M480.2 83.2h0M479.8 81.8h0M480.3 88.0h0M483.8 83.3h0M483.3 88.5h0M481.2 82.6h0M482.8 86.5h0M480.6 87.0h0M480.6 90.3h0M477.8 79.9h0M478.4 89.2h0M479.5 84.6h0M481.4 79.4h0M480.7 84.3h0M480.9 89.8h0M479.0 87.3h0M482.1 86.7h0M481.9 87.0h0M478.9 87.8h0M480.4 88.9h0M478.3 80.1h0M477.9 95.1h0M480.9 94.6h0M478.0 83.9h0M480.6 78.7h0M478.4 92.6h0M478.2 85.9h0M482.3 82.5h0M479.1 87.1h0M478.7 83.3h0M479.6 89.3h0M484.0 89.3h0M486.5 88.3h0M480.6 83.4h0M478.5 83.8h0M479.2 87.7h0M492.2 89.2h0M482.0 87.3h0M481.5 87.1h0M478.8 81.8h0M477.7 87.3h0M479.1 80.3h0M479.9 84.8h0M478.8 83.4h0M478.7 84.3h0M480.1 87.1h0M478.8 87.7h0M477.9 83.0h0M484.1 87.4h0M482.0 87.2h0M478.6 76.3h0M479.1 87.4h0M479.9 88.9h0M479.9 92.8h0M489.9 93.1h0M477.8 88.5h0M481.8 87.2h0M483.7 87.6h0M480.1 87.4h0M478.9 87.7h0M478.4 87.3h0M478.3 85.9h0M478.5 91.6h0M477.7 96.2h0M478.2 79.9h0M478.6 81.4h0M478.1 99.1h0M478.2 87.5h0M478.7 68.3h0M477.7 95.2h0M478.0 83.1h0M478.2 59.0h0M478.7 107.7h0M477.8 90.0h0M477.8 99.1h0M478.5 78.5h0M478.0 66.7h0M478.1 93.0h0M477.6 79.7h0M479.3 79.1h0M477.8 97.9h0M477.6 101.3h0M477.6 90.2h0M477.6 95.8h0M478.2 99.1h0M478.6 72.0h0M479.1 68.0h0M478.4 96.2h0M477.7 112.9h0M479.2 65.2h0M478.0 82.4h0M479.2 97.6h0M478.5 75.2h0M479.6 71.2h0M477.6 73.1h0M478.5 90.1h0M478.5 96.2h0M478.1 87.4h0M478.2 102.4h0M478.7 70.7h0M478.3 99.1h0M478.0 81.2h0M478.8 95.8h0M477.7 106.7h0M478.5 110.9h0M478.0 100.4h0M479.6 77.6h0M479.3 73.0h0M486.5 89.8h0M483.4 87.9h0M511.0 85.7h0M480.8 82.4h0M503.6 74.2h0M492.9 85.7h0M489.5 80.1h0M480.6 79.9h0M478.3 87.8h0M479.8 85.8h0M484.9 90.3h0M479.6 85.4h0M492.4 83.5h0M480.9 91.7h0M477.7 95.0h0M477.4 83.0h0M478.1 90.1h0M495.0 90.6h0M478.5 87.0h0M483.0 91.4h0M495.8 73.7h0M483.5 83.1h0M481.8 91.8h0M482.5 80.6h0M483.0 82.4h0M477.9 91.3h0M479.1 86.6h0M479.2 83.1h0M478.7 85.1h0M480.9 87.7h0M484.8 81.0h0M478.0 75.5h0M485.6 88.1h0M484.1 91.5h0M491.9 78.0h0M477.4 71.0h0M480.3 84.7h0M477.7 86.5h0M481.0 83.3h0M477.9 85.1h0M480.4 85.9h0M523.3 78.5h0M484.7 92.3h0M482.5 81.3h0M481.6 88.2h0M485.9 87.2h0M493.0 90.1h0M480.5 86.8h0M480.3 88.6h0M480.2 82.3h0" stroke="#0072BD" stroke-width="2.2" stroke-linecap="round" fill="none"/>
<path d="M478.3 24.1h0M510.4 37.7h0M549.7 34.4h0M546.1 39.9h0M553.0 43.7h0M508.3 45.6h0M481.1 47.6h0M540.7 49.4h0M502.6 52.3h0M493.3 53.7h0M482.6 57.0h0M501.6 58.3h0M514.7 56.6h0M481.9 60.9h0M516.9 62.6h0M483.3 66.4h0M495.6 66.6h0M522.5 66.9h0M526.2 66.4h0M517.8 68.6h0M532.4 70.0h0M514.5 80.6h0M525.8 88.5h0M529.1 97.8h0M509.8 101.2h0M505.9 101.2h0M495.2 100.5h0M523.8 108.1h0M491.9 109.8h0M543.9 79.7h0M554.6 76.9h0M563.3 76.9h0M555.4 82.6h0M561.0 80.7h0M548.6 87.1h0M552.4 88.0h0M565.1 90.7h0M579.3 79.0h0M579.7 86.0h0M534.7 95.1h0M536.9 109.7h0M487.9 113.7h0M494.3 113.3h0M505.7 114.7h0M512.9 114.7h0M514.7 119.0h0M543.0 120.9h0M548.0 119.0h0M496.6 125.4h0M531.6 127.7h0M483.0 128.7h0M478.3 138.0h0M486.1 142.3h0M476.9 143.7h0M503.0 145.1h0M476.9 150.6h0M558.0 130.4h0M557.6 149.0h0M606.9 117.6h0" stroke="#3f5f85" stroke-width="2.2" stroke-linecap="round" fill="none"/>
<path d="M98.6 247.1h0M114.0 210.7h0M114.3 212.1h0M109.3 242.4h0M111.1 245.3h0M99.7 247.1h0M101.6 248.1h0M113.6 249.7h0M113.7 251.1h0M102.6 257.9h0M111.9 257.1h0M114.7 256.1h0M114.4 258.6h0M110.4 260.0h0M112.6 260.0h0M47.3 284.1h0M48.3 284.4h0M50.7 283.3h0M57.6 282.0h0M60.1 283.3h0M61.1 283.7h0M71.1 280.9h0M73.3 282.0h0M74.4 283.4h0M75.4 284.4h0M84.7 282.6h0M86.6 284.4h0M85.1 290.1h0M85.4 291.9h0M91.9 284.4h0M94.0 282.3h0M98.3 280.9h0M98.3 282.6h0M96.1 300.6h0M97.6 298.7h0M100.6 259.5h0M107.8 261.6h0M113.9 262.6h0M112.9 265.7h0M110.8 265.7h0M114.4 269.2h0M117.5 269.2h0M108.3 272.3h0M109.8 272.8h0M112.9 273.3h0M115.4 273.3h0M120.5 274.8h0M123.6 274.3h0M127.7 276.4h0M129.7 276.9h0M105.2 278.4h0M103.7 279.4h0M99.6 283.5h0M101.7 282.5h0M95.0 282.0h0M124.6 281.0h0M127.7 281.5h0M129.2 284.0h0M131.8 283.0h0M130.7 285.6h0M123.6 289.6h0M120.5 289.1h0M118.0 290.1h0M114.4 291.7h0M105.7 290.7h0M104.2 291.7h0M100.1 291.2h0M100.6 294.2h0M101.7 296.3h0M112.9 295.8h0M115.4 296.8h0M117.5 292.7h0M134.7 285.9h0M135.4 288.7h0M136.9 291.6h0M138.3 291.6h0M140.7 293.0h0M166.1 282.6h0M165.9 284.9h0M134.0 283.0h0M105.9 311.6h0M107.5 314.0h0M112.8 355.7h0M113.4 296.8h0M114.2 300.2h0M114.2 303.6h0M110.8 304.1h0M114.2 308.6h0M117.1 310.3h0M114.2 356.6h0M106.2 283.4h0M113.6 286.1h0M118.6 283.7h0M117.3 282.3h0M111.7 285.6h0M110.7 281.8h0M110.8 280.8h0M113.5 284.9h0M111.5 284.7h0M108.3 281.1h0M111.9 284.5h0M119.8 277.7h0M115.3 286.7h0M115.1 286.8h0M119.2 283.7h0M109.9 281.5h0M120.6 281.0h0M111.1 282.0h0M119.6 283.2h0M109.5 281.6h0M117.4 285.6h0M120.5 284.2h0M116.7 280.8h0M113.0 279.9h0M114.5 283.9h0M115.2 280.8h0M117.1 285.1h0M119.5 278.0h0M106.3 280.5h0M116.9 285.4h0M117.6 283.1h0M115.9 282.4h0M112.6 280.7h0M126.4 282.4h0M117.0 284.3h0M118.2 282.9h0M118.4 287.6h0M112.7 281.7h0M111.4 282.2h0M110.6 283.8h0M117.4 285.8h0M119.6 282.1h0M115.7 281.2h0M115.2 283.2h0M116.8 282.9h0M111.2 285.3h0M114.5 279.8h0M108.9 284.6h0M108.6 284.5h0M120.4 284.2h0M117.9 284.3h0M112.9 283.5h0M108.3 284.4h0M117.3 283.3h0M118.9 282.6h0M108.9 286.2h0M115.4 281.6h0M113.1 282.2h0M115.7 280.1h0M115.4 282.2h0M117.3 282.3h0M117.3 281.0h0M116.3 282.3h0M118.8 283.9h0M118.7 281.9h0M112.8 282.9h0M111.3 282.4h0M119.5 280.6h0M113.0 283.2h0M120.8 287.9h0M113.0 281.9h0M115.9 281.5h0M107.9 284.3h0M116.3 283.6h0M117.0 283.4h0M112.8 284.4h0M114.9 283.4h0M111.1 283.2h0M114.8 281.0h0M112.3 282.0h0M115.0 281.6h0M111.1 283.2h0M110.7 283.7h0M111.9 282.5h0M119.0 277.9h0M110.2 281.8h0M114.5 281.0h0M111.6 281.6h0M111.4 283.2h0M112.5 282.6h0M115.1 284.5h0M112.8 282.0h0M116.5 278.1h0M115.2 281.0h0M118.1 282.3h0M111.9 285.4h0M113.0 281.0h0M116.6 278.6h0M114.4 284.6h0M110.5 285.1h0M113.9 281.7h0M109.1 286.2h0M119.7 282.2h0M116.3 278.7h0M115.2 283.8h0M112.3 281.5h0M114.3 281.1h0M109.0 284.7h0M118.1 284.3h0M117.5 285.3h0M113.9 276.3h0M115.0 281.7h0M110.8 284.1h0M111.4 280.3h0M123.5 282.1h0M115.5 284.3h0M117.1 282.7h0M116.8 282.8h0M113.4 282.4h0M117.2 284.5h0M116.5 279.6h0M114.2 284.1h0M113.6 284.1h0M115.4 285.7h0M106.9 283.4h0M118.8 284.5h0M113.2 282.5h0M113.7 284.0h0M117.6 281.7h0M118.8 284.0h0M107.6 282.1h0M114.5 281.5h0M115.3 282.9h0M114.7 282.4h0M116.0 281.7h0M116.9 279.0h0M115.2 281.9h0M113.6 283.6h0M112.7 275.8h0M109.8 282.5h0M114.0 281.9h0M112.7 284.5h0M115.0 280.6h0M111.9 285.1h0M115.4 283.8h0M115.1 283.5h0M113.1 280.8h0M111.5 281.0h0M121.2 284.4h0M115.2 282.7h0M109.3 284.7h0M108.8 285.3h0M113.2 279.8h0M120.2 280.8h0M114.0 282.6h0M109.7 284.0h0M110.3 282.6h0M111.0 286.6h0M115.1 286.3h0M113.1 283.5h0M116.9 283.1h0M114.0 285.5h0M116.3 283.1h0M117.9 276.8h0M111.3 284.1h0M113.7 282.4h0M109.8 282.2h0M119.9 281.9h0M111.4 282.3h0M118.7 281.5h0M104.3 283.6h0M111.9 283.5h0M103.9 282.3h0M112.2 283.7h0M124.3 284.7h0M120.7 284.3h0M120.1 284.0h0M117.7 283.0h0M111.1 284.7h0M107.1 282.8h0M112.7 283.6h0M110.0 282.9h0M109.3 282.7h0M111.7 286.7h0M107.1 285.8h0M106.7 283.6h0M113.6 284.0h0M112.2 282.3h0M110.7 283.1h0M105.2 283.3h0M114.1 277.3h0M112.7 286.3h0M113.1 280.6h0M113.4 280.7h0M114.5 284.1h0M116.1 281.8h0M114.4 280.5h0M114.9 277.2h0M113.2 282.3h0M116.7 291.9h0M116.0 283.1h0M112.5 285.4h0M115.1 280.5h0M115.9 290.9h0M112.3 281.6h0M113.7 282.2h0M113.8 283.3h0M113.7 293.4h0M113.5 278.4h0M115.2 287.1h0" stroke="#D95319" stroke-width="2.2" stroke-linecap="round" fill="none"/>
<path d="M50.1 254.7h0M94.3 256.1h0M133.6 213.1h0M114.0 219.3h0M109.0 232.6h0M105.4 243.3h0M115.0 241.7h0M100.1 254.7h0M120.1 257.9h0M148.7 256.1h0M155.4 255.3h0M37.9 283.7h0M66.6 284.9h0M79.0 283.3h0M69.0 291.9h0M91.4 291.9h0M91.4 288.0h0M91.6 279.4h0M95.4 276.9h0M89.3 266.6h0M94.4 261.3h0M42.9 298.4h0M92.3 302.6h0M103.7 266.7h0M127.7 288.1h0M110.8 291.2h0M105.2 296.3h0M109.3 296.3h0M130.7 290.7h0M141.1 283.0h0M153.0 283.0h0M169.7 286.6h0M168.7 290.9h0M151.6 294.1h0M156.4 294.1h0M145.9 299.1h0M130.4 303.4h0M176.1 272.3h0M179.3 283.7h0M186.6 284.0h0M197.3 281.1h0M193.3 298.4h0M195.4 303.4h0M112.8 312.0h0M81.8 316.9h0M91.3 322.9h0M112.1 319.5h0M113.6 325.2h0M110.7 332.9h0M85.4 336.8h0M102.9 337.2h0M118.7 304.4h0M128.8 298.2h0M131.5 316.5h0M115.0 321.6h0M118.7 333.5h0M175.6 356.6h0" stroke="#8f5440" stroke-width="2.2" stroke-linecap="round" fill="none"/>
<path d="M252.6 235.3h0M252.6 238.6h0M252.6 248.6h0M256.0 249.0h0M256.4 267.7h0M259.3 266.1h0M253.6 280.9h0M255.0 280.6h0M256.9 279.7h0M259.7 280.6h0M266.4 285.4h0M264.0 286.6h0M282.6 299.7h0M283.1 301.1h0M255.0 308.3h0M282.6 312.6h0M255.0 313.4h0M341.2 281.2h0M343.9 281.2h0M255.0 314.6h0M256.6 319.0h0M282.5 318.0h0M282.9 320.4h0M264.6 323.9h0M265.9 323.3h0M276.5 324.6h0M278.5 323.3h0M281.2 322.6h0M275.9 326.6h0M288.5 327.9h0M291.2 328.6h0M257.3 328.6h0M258.6 330.6h0M260.0 331.2h0M261.9 333.2h0M256.6 333.2h0M274.6 336.5h0M276.5 337.9h0M278.5 338.5h0M285.2 334.6h0M287.8 335.2h0M286.5 331.9h0M278.5 342.5h0M281.9 341.9h0M284.5 343.2h0M286.5 345.2h0M281.9 344.5h0M305.8 341.9h0M305.8 353.8h0M287.8 352.5h0M280.5 352.5h0M279.2 349.2h0M270.6 350.5h0M271.9 352.5h0M273.9 353.8h0M266.6 354.5h0M269.9 356.5h0M276.5 357.1h0M280.5 356.5h0M284.5 357.1h0M291.2 357.8h0M299.1 358.5h0M268.6 341.9h0M270.6 343.8h0M265.9 344.5h0M358.0 318.1h0M357.1 320.8h0M306.9 341.9h0M325.7 342.3h0M328.4 342.3h0M306.9 353.0h0M341.9 353.9h0M342.8 355.2h0M332.0 357.0h0M329.0 358.4h0M262.3 352.1h0M255.2 342.2h0M263.0 357.0h0M263.5 355.4h0M258.0 355.1h0M256.3 336.6h0M267.1 347.9h0M258.7 356.2h0M257.1 340.3h0M255.6 357.4h0M261.0 357.5h0M260.0 354.1h0M267.6 351.0h0M256.9 355.8h0M255.0 353.3h0M268.4 348.8h0M265.1 352.1h0M258.1 352.1h0M272.3 357.4h0M269.1 349.8h0M267.4 351.9h0M269.3 353.2h0M255.6 351.5h0M258.6 337.9h0M254.8 354.0h0M256.7 352.4h0M258.8 346.4h0M270.4 357.2h0M265.2 345.3h0M270.2 353.1h0M258.8 340.5h0M261.1 340.4h0M260.7 345.9h0M255.9 334.8h0M261.0 345.6h0M254.3 343.1h0M266.8 352.6h0M256.6 358.5h0M262.1 345.2h0M260.7 343.0h0M266.1 357.3h0M259.4 341.1h0M257.8 352.0h0M262.2 358.6h0M256.0 345.6h0M267.0 358.3h0M259.4 353.9h0M254.7 343.4h0M256.5 339.1h0M268.6 356.2h0M258.4 354.3h0M268.0 355.1h0M257.6 356.1h0M272.7 355.7h0M271.0 355.1h0M254.8 339.3h0M254.0 356.6h0M255.6 343.4h0M266.8 352.6h0M271.0 357.7h0M268.0 353.0h0M254.1 358.6h0M256.6 351.0h0M254.1 339.0h0M257.3 349.7h0M254.1 338.9h0M267.9 352.9h0M269.9 352.1h0M255.5 358.2h0M262.0 357.5h0M255.2 335.1h0M260.9 341.4h0M266.6 354.5h0M257.1 346.1h0M273.8 357.9h0M256.4 345.2h0M268.2 354.7h0M262.4 342.0h0M270.4 358.3h0M257.5 336.7h0M260.8 348.6h0M265.2 344.9h0M258.7 341.1h0M259.3 342.4h0M259.8 343.2h0M267.4 358.6h0M253.4 358.6h0M254.5 355.3h0M257.8 353.2h0M253.4 348.1h0M254.0 340.7h0M254.8 349.3h0M259.4 358.6h0M256.4 356.7h0M280.1 358.0h0M255.3 358.4h0M253.4 355.2h0M257.8 358.5h0M262.5 358.1h0M267.7 353.3h0M272.0 356.3h0M262.5 354.4h0M259.4 356.6h0M256.4 357.8h0M254.8 345.2h0M253.4 349.7h0M260.1 358.5h0M255.6 349.6h0M256.4 355.6h0M256.4 358.5h0M278.2 351.9h0M254.3 357.2h0M259.3 348.3h0M256.9 357.6h0M254.9 355.2h0M264.5 352.8h0M253.9 358.6h0M258.4 357.8h0M264.0 358.5h0M283.3 350.6h0M254.1 358.6h0M262.0 358.6h0M253.4 356.8h0M253.5 358.6h0M256.9 353.7h0M261.0 358.6h0M253.4 356.0h0M259.9 358.2h0M257.5 358.6h0M265.1 348.1h0M267.6 356.8h0M253.4 350.1h0M255.7 357.1h0M255.6 352.7h0M259.7 356.4h0M254.2 358.6h0M253.4 341.5h0M271.3 358.6h0M257.4 339.6h0M257.2 340.1h0M253.4 352.5h0M262.6 358.6h0M253.8 343.4h0M254.0 354.2h0M265.9 352.7h0M260.7 357.5h0M262.9 358.6h0M255.3 355.8h0M259.2 358.6h0M253.4 357.0h0M253.4 346.3h0M255.7 354.6h0M255.6 348.7h0M266.8 346.8h0M253.4 354.3h0M260.8 345.8h0M257.0 356.0h0M253.6 358.6h0M253.4 357.7h0M259.5 356.7h0M256.8 357.8h0M272.4 345.6h0M254.2 356.8h0M253.4 356.7h0M254.0 352.4h0M254.6 353.1h0M253.4 352.8h0M258.1 357.6h0M260.6 348.5h0M265.5 353.0h0M255.7 354.7h0M260.4 357.4h0M264.3 351.0h0M259.0 351.7h0M253.4 350.3h0M255.8 353.1h0M258.3 356.5h0M259.8 348.8h0M281.1 358.6h0M266.1 351.3h0M257.5 351.6h0M254.9 356.6h0M253.4 345.0h0M261.6 355.5h0M257.7 349.9h0M253.5 354.9h0M259.6 354.7h0M273.2 357.9h0M258.8 351.2h0M255.2 344.0h0M255.4 358.6h0M253.5 356.8h0M276.4 345.9h0M265.1 353.5h0M256.3 353.8h0M257.6 342.5h0M255.2 356.8h0M259.7 350.5h0M259.9 358.5h0M258.0 357.8h0M254.3 357.9h0M253.4 358.6h0M258.6 350.8h0M253.4 343.4h0M255.9 351.1h0M253.4 358.6h0M261.8 358.6h0M253.4 353.6h0M253.4 356.6h0M261.8 358.6h0M262.7 346.2h0M272.8 354.3h0M262.0 358.5h0M257.2 348.0h0M263.5 358.5h0M262.2 356.7h0M256.5 350.7h0M258.6 357.3h0M263.2 344.8h0M261.6 358.6h0M253.4 354.8h0M253.4 358.6h0M263.8 358.6h0M254.3 357.5h0M267.3 343.4h0M260.9 356.1h0M253.4 341.2h0M253.9 353.9h0M260.8 355.6h0M264.4 344.1h0M255.0 352.7h0M253.4 356.4h0M258.6 357.7h0M255.1 351.7h0M253.8 345.4h0M253.4 358.1h0M257.7 358.1h0M262.6 357.1h0M253.4 353.4h0M255.6 354.1h0M253.4 358.6h0M254.4 355.5h0M253.7 358.2h0M262.4 358.0h0M254.8 348.2h0M286.4 351.4h0M253.4 351.5h0M253.4 350.7h0M254.3 358.1h0M255.6 358.6h0M258.5 350.0h0M258.5 350.7h0M253.5 357.7h0M262.5 357.3h0M260.1 354.9h0M253.4 358.1h0M266.6 346.7h0M257.5 358.6h0M253.4 344.2h0M261.3 352.9h0M254.2 346.3h0M253.4 353.1h0M258.9 357.0h0M261.7 358.3h0M270.5 344.6h0M254.8 357.3h0M261.2 357.2h0M257.4 353.0h0M268.5 351.8h0M254.3 357.1h0M253.4 350.5h0M262.7 358.1h0M256.0 357.2h0M254.3 358.6h0M257.5 343.0h0M254.2 338.7h0M254.9 348.8h0M254.0 345.9h0M254.3 358.5h0M254.2 333.6h0M254.5 350.5h0M254.5 352.1h0M253.9 338.1h0M255.3 344.4h0M254.4 356.1h0M253.9 358.6h0M254.6 354.5h0M253.6 344.9h0M254.1 354.4h0M254.0 354.1h0M254.1 354.9h0M254.2 347.5h0M255.5 349.9h0M253.5 337.0h0M254.2 353.8h0M254.0 343.8h0M254.2 319.9h0M254.0 356.9h0M254.4 329.1h0M254.7 309.7h0M253.7 354.2h0M254.2 352.0h0M253.5 357.9h0M254.5 357.6h0M254.4 358.6h0M253.5 351.5h0M254.3 342.1h0M253.7 358.6h0M253.4 351.3h0M254.3 340.3h0M255.0 336.7h0M253.9 337.5h0M253.9 354.7h0M253.5 352.6h0M253.6 316.1h0M254.0 352.8h0M254.7 351.5h0M256.5 353.8h0M255.4 347.1h0M254.1 349.5h0M253.5 358.2h0M253.7 344.6h0M254.4 338.3h0M255.8 350.2h0M268.4 357.7h0M255.9 358.2h0M256.7 358.5h0M253.7 358.0h0M269.1 357.7h0M257.6 357.8h0M255.2 358.5h0M256.6 358.4h0M259.6 358.5h0M253.4 358.4h0M259.2 358.5h0M253.9 358.6h0M253.6 358.0h0M273.7 357.7h0M263.1 358.2h0M270.4 357.7h0M253.4 358.5h0M253.4 357.9h0M299.6 357.8h0M278.1 358.1h0M259.6 357.1h0M260.0 358.1h0M260.9 358.4h0M263.5 358.3h0M255.5 358.0h0M265.2 357.8h0M257.3 358.4h0M256.7 358.1h0M266.5 358.2h0M258.8 358.5h0M256.0 358.5h0M280.0 357.8h0M256.0 358.5h0M255.1 358.6h0M267.0 358.4h0M265.6 358.2h0M266.6 358.2h0M259.1 358.3h0M270.3 358.4h0M291.7 357.2h0M256.6 341.5h0M258.1 341.0h0M262.0 355.6h0M256.4 341.1h0M259.3 357.1h0M261.2 357.2h0M254.0 355.9h0M266.8 356.5h0M271.3 358.2h0M257.1 358.6h0M263.9 350.0h0M267.2 343.4h0M274.9 353.6h0M257.5 350.2h0M259.4 356.7h0M258.5 354.1h0M273.2 357.8h0M265.1 347.6h0M275.5 351.0h0M264.4 357.4h0M272.0 358.1h0M261.8 357.5h0M255.7 348.1h0M257.8 348.2h0M255.6 357.7h0M257.2 352.3h0M268.3 340.5h0M257.7 332.9h0M260.9 356.8h0M259.7 348.3h0M266.4 357.5h0M285.8 351.3h0M253.4 355.6h0M269.5 358.1h0M256.8 348.4h0M254.6 347.2h0M261.4 355.8h0M268.4 357.9h0M255.3 345.6h0M261.7 356.4h0M257.9 341.6h0M255.1 358.0h0M259.6 356.5h0M263.7 356.1h0M255.3 350.0h0M282.3 351.4h0M283.9 315.6h0M265.9 350.9h0M257.6 357.9h0M260.2 356.8h0M260.9 353.5h0M260.7 350.9h0M260.8 335.0h0M260.7 357.5h0M272.8 346.4h0M257.5 353.3h0M260.8 354.1h0M253.9 336.1h0M259.0 348.8h0M259.1 354.4h0M254.9 356.6h0M259.2 355.6h0M255.5 350.1h0M256.4 342.5h0M254.2 356.3h0M258.4 356.4h0M269.7 352.5h0M254.0 356.5h0M264.2 355.3h0M256.6 356.5h0M253.5 345.8h0M256.9 356.1h0M254.4 352.3h0M277.7 358.4h0M259.6 352.6h0M260.6 353.6h0M277.0 350.5h0M258.6 329.0h0M260.0 358.5h0M262.9 356.6h0M269.8 358.3h0M270.3 357.3h0M270.0 356.8h0M254.8 356.0h0M259.7 348.0h0M259.9 357.9h0M279.9 342.2h0M257.5 358.3h0M258.1 328.9h0M281.1 356.9h0M257.1 347.9h0M277.2 342.9h0M268.1 350.1h0M268.2 356.2h0M274.5 356.4h0M254.6 345.4h0M262.2 357.8h0M260.2 356.8h0M260.4 353.9h0M254.8 351.5h0M267.5 347.3h0M254.8 333.8h0M277.6 354.6h0M287.7 356.7h0" stroke="#D95319" stroke-width="2.2" stroke-linecap="round" fill="none"/>
<path d="M252.6 222.9h0M252.6 230.4h0M252.6 242.4h0M252.6 255.3h0M262.1 230.0h0M260.3 234.6h0M261.0 246.1h0M257.9 253.6h0M275.7 255.7h0M273.6 260.0h0M258.6 260.4h0M313.9 223.1h0M350.9 244.2h0M380.4 247.4h0M400.5 246.6h0M321.3 248.9h0M275.0 263.3h0M269.3 268.0h0M260.3 271.6h0M297.9 268.4h0M312.9 266.1h0M304.3 275.1h0M262.9 282.6h0M269.7 283.0h0M274.6 280.6h0M285.4 288.4h0M311.4 290.1h0M319.6 284.9h0M257.9 290.4h0M266.1 292.7h0M260.3 295.1h0M289.7 294.9h0M268.6 300.1h0M271.1 303.4h0M257.9 303.0h0M253.1 302.6h0M259.7 308.3h0M288.6 306.3h0M298.9 305.4h0M262.9 312.0h0M275.0 313.4h0M278.6 312.6h0M359.1 261.7h0M353.2 266.0h0M354.0 270.0h0M350.0 272.9h0M390.8 271.9h0M330.0 283.1h0M370.3 298.0h0M321.5 308.4h0M346.0 309.7h0M292.7 319.0h0M294.5 324.3h0M301.1 323.9h0M307.7 326.6h0M295.8 329.2h0M263.9 337.2h0M267.3 335.9h0M273.9 341.2h0M292.5 345.8h0M303.8 348.5h0M293.8 351.2h0M296.5 355.1h0M304.4 359.1h0M308.4 359.8h0M311.0 325.2h0M314.6 324.0h0M318.2 335.7h0M333.8 342.8h0M325.4 346.4h0M330.8 349.5h0M315.3 348.6h0M315.3 353.0h0M354.8 354.5h0M372.4 354.5h0M372.7 341.9h0M375.1 345.0h0M384.0 341.4h0M317.7 359.9h0M323.9 358.8h0M336.5 360.2h0M342.8 359.9h0M355.3 360.2h0M359.8 359.9h0M384.9 358.4h0M377.4 360.2h0M253.6 298.8h0M263.4 302.2h0M294.9 340.7h0M265.5 332.1h0M262.3 328.4h0M255.4 324.7h0M296.2 345.8h0" stroke="#8f5440" stroke-width="2.2" stroke-linecap="round" fill="none"/>
<path d="M488.3 247.1h0M486.1 251.0h0M487.6 250.0h0M493.9 264.6h0M495.9 266.0h0M485.9 267.0h0M484.6 268.4h0M480.0 271.3h0M499.2 271.7h0M501.9 271.7h0M511.2 272.3h0M513.2 275.0h0M520.5 275.9h0M521.8 277.9h0M521.1 279.9h0M524.4 281.9h0M527.1 281.9h0M529.1 280.6h0M517.8 285.2h0M519.1 286.5h0M489.9 295.8h0M480.0 301.1h0M478.0 301.8h0M496.6 300.5h0M495.2 301.1h0M499.9 304.5h0M501.9 305.1h0M503.9 306.5h0M480.0 308.2h0M482.6 308.4h0M507.2 279.2h0M509.2 277.2h0M508.5 282.6h0M505.9 284.5h0M503.2 285.9h0M501.2 287.9h0M542.1 276.6h0M543.6 279.1h0M550.7 282.0h0M552.9 281.6h0M549.7 284.7h0M576.9 284.1h0M578.3 286.1h0M479.0 307.9h0M502.3 307.9h0M478.7 313.9h0M476.1 314.6h0M478.3 324.3h0M481.1 323.4h0M516.9 320.6h0M518.0 322.7h0M520.9 320.7h0M479.9 284.3h0M479.9 282.3h0M477.6 284.2h0M485.7 286.5h0M482.0 288.4h0M484.0 286.8h0M479.2 286.0h0M490.1 288.3h0M478.7 282.1h0M492.9 286.1h0M477.8 285.6h0M480.4 283.7h0M492.8 289.2h0M481.0 284.8h0M487.5 288.6h0M478.9 282.3h0M488.5 293.3h0M480.0 284.2h0M479.0 286.4h0M479.8 280.9h0M479.2 281.3h0M480.9 284.7h0M480.2 283.5h0M478.3 283.9h0M484.4 281.6h0M478.3 276.3h0M489.3 285.8h0M491.5 281.5h0M496.2 285.9h0M486.8 280.0h0M478.4 284.7h0M482.9 284.8h0M492.1 284.1h0M487.3 285.2h0M487.1 284.1h0M479.1 284.1h0M479.0 285.3h0M485.7 283.6h0M477.9 278.5h0M483.2 284.9h0M479.3 285.8h0M479.6 286.1h0M480.3 282.5h0M494.1 287.1h0M477.6 284.3h0M480.7 289.9h0M484.5 292.3h0M477.6 288.3h0M484.5 283.6h0M484.9 288.7h0M483.6 285.7h0M486.2 282.8h0M481.9 284.4h0M478.0 285.6h0M488.1 282.0h0M478.2 286.2h0M484.9 281.4h0M484.7 282.7h0M481.1 284.9h0M480.1 278.5h0M479.6 285.1h0M478.1 282.2h0M486.4 280.6h0M481.8 276.5h0M510.1 282.4h0M482.5 284.0h0M478.9 281.0h0M479.4 285.5h0M480.9 282.5h0M487.7 282.8h0M479.5 283.3h0M478.2 280.5h0M479.4 283.9h0M482.6 286.3h0M482.7 285.4h0M481.9 288.3h0M478.4 282.5h0M482.5 283.0h0M479.0 276.9h0M483.1 279.4h0M481.3 281.2h0M480.4 282.4h0M477.9 274.8h0M480.7 283.9h0M483.7 287.0h0M478.2 281.1h0M498.4 280.0h0M477.9 283.3h0M483.4 285.8h0M478.5 280.2h0M483.1 284.6h0M478.8 286.3h0M481.0 281.0h0M478.4 280.1h0M478.8 284.2h0M492.5 287.4h0M482.4 284.4h0M477.7 282.4h0M481.1 283.9h0M483.5 286.4h0M478.0 286.0h0M481.7 281.1h0M477.8 288.1h0M477.8 285.4h0M482.2 282.5h0M491.6 286.1h0M486.5 282.4h0M479.2 286.5h0M478.2 288.1h0M483.2 282.1h0M480.1 284.7h0M478.9 288.0h0M488.6 291.6h0M478.7 280.6h0M479.2 285.9h0M481.3 280.7h0M483.2 284.4h0M478.0 287.1h0M477.7 288.7h0M482.0 282.5h0M478.6 281.4h0M500.5 290.6h0M482.2 286.4h0M486.0 282.0h0M483.5 284.8h0M477.7 290.8h0M479.0 275.7h0M479.6 283.8h0M478.1 282.7h0M478.2 278.7h0M482.9 280.9h0M490.3 285.7h0M485.6 288.6h0M479.8 282.8h0M479.7 284.3h0M480.8 284.5h0M478.4 281.5h0M480.7 282.4h0M487.9 276.2h0M479.2 285.1h0M478.3 282.6h0M482.6 280.1h0M481.5 280.6h0M478.7 284.7h0M499.0 284.6h0M487.6 287.0h0M485.2 288.1h0M479.1 283.0h0M486.7 290.7h0M480.3 286.7h0M482.8 286.6h0M485.3 281.0h0M485.8 276.3h0M478.9 283.1h0M478.4 281.9h0M480.0 277.6h0M477.7 281.4h0M477.9 284.5h0M478.4 280.9h0M484.8 281.6h0M478.7 281.4h0M479.1 281.9h0M478.3 283.4h0M482.6 280.8h0M482.8 278.9h0M482.8 281.9h0M478.1 284.1h0M485.2 279.6h0M478.1 288.0h0M479.3 285.2h0M496.5 282.2h0M479.5 286.9h0M481.3 285.5h0M479.0 291.7h0M488.9 286.5h0M485.2 283.2h0M487.8 292.1h0M479.8 285.4h0M479.5 284.2h0M477.7 281.6h0M493.1 288.2h0M481.4 284.0h0M480.1 286.3h0M477.7 278.1h0M481.9 285.6h0M478.2 281.0h0M481.4 286.7h0M480.7 283.8h0M478.7 278.2h0M480.5 280.3h0M481.1 283.7h0M480.5 283.9h0M478.9 282.5h0M480.3 282.4h0M480.9 283.7h0M487.5 282.4h0M478.4 288.8h0M487.5 280.5h0M489.3 286.2h0M481.6 285.1h0M482.0 277.6h0M480.1 274.1h0M481.8 286.9h0M478.5 279.9h0M492.7 281.5h0M478.3 290.5h0M486.8 285.8h0M482.6 278.0h0M493.7 277.3h0M479.7 282.5h0M490.1 283.6h0M481.7 283.4h0M489.2 289.9h0M479.2 292.3h0M480.7 280.6h0M503.6 284.3h0M485.4 277.7h0M492.7 288.3h0M486.2 278.5h0M483.9 276.9h0M481.2 289.2h0M482.8 289.2h0M511.3 282.0h0M484.0 293.0h0M479.5 277.5h0M489.9 288.4h0M482.3 284.0h0M487.5 286.7h0M490.1 288.7h0M482.0 279.8h0M495.2 277.7h0M478.3 276.9h0M496.7 277.1h0M478.4 288.6h0M477.6 285.6h0M478.6 283.9h0M499.3 281.6h0M551.7 282.9h0M483.8 280.1h0M482.4 276.1h0M496.8 289.0h0M482.4 282.3h0M483.6 286.7h0M478.8 277.8h0M477.7 281.8h0M493.6 280.9h0M487.7 284.0h0M489.8 285.5h0M479.5 290.1h0M482.0 282.7h0M478.1 267.8h0M478.6 265.7h0M477.9 284.6h0M479.3 314.6h0M477.8 281.6h0M477.9 288.1h0M477.7 301.0h0M478.8 276.6h0M479.9 283.7h0M479.1 302.3h0M478.1 276.6h0M477.7 276.1h0M478.5 276.2h0M479.4 301.1h0M477.9 294.3h0M478.1 276.3h0M478.3 289.2h0M478.9 298.7h0M479.8 275.9h0M478.8 300.8h0M480.4 280.4h0M477.7 288.8h0M477.7 270.6h0M477.9 279.3h0M478.6 280.8h0M477.7 283.2h0M477.9 296.5h0M478.1 289.5h0M478.9 281.6h0M478.7 277.9h0" stroke="#D95319" stroke-width="2.2" stroke-linecap="round" fill="none"/>
<path d="M513.0 219.7h0M484.0 225.3h0M479.7 228.1h0M481.6 239.7h0M479.0 247.6h0M476.1 254.6h0M494.4 257.1h0M481.1 260.0h0M503.0 245.3h0M520.4 245.3h0M523.6 247.1h0M520.0 255.0h0M529.0 241.7h0M540.7 242.4h0M539.3 246.0h0M545.4 244.7h0M548.3 247.9h0M534.0 251.4h0M537.9 251.4h0M520.9 260.4h0M529.7 260.4h0M583.6 223.0h0M612.7 255.7h0M491.3 262.0h0M501.2 262.9h0M515.2 265.7h0M524.4 267.6h0M517.8 269.7h0M487.3 270.9h0M523.1 273.3h0M527.1 285.9h0M532.4 292.5h0M523.1 292.5h0M509.8 288.5h0M513.8 287.9h0M506.5 291.8h0M507.8 296.5h0M501.2 295.8h0M493.9 294.5h0M497.2 292.5h0M486.6 297.8h0M484.0 301.1h0M490.6 301.8h0M519.1 300.7h0M523.1 307.8h0M534.6 261.1h0M569.6 267.6h0M557.9 284.7h0M535.4 284.7h0M571.9 283.7h0M593.9 292.7h0M558.3 296.6h0M549.7 309.7h0M534.0 312.3h0M496.6 306.3h0M527.1 314.1h0M538.3 317.7h0M500.9 314.1h0M494.3 315.6h0M477.1 320.0h0M494.3 322.9h0M476.6 335.3h0M478.0 341.0h0M489.0 343.9h0" stroke="#8f5440" stroke-width="2.2" stroke-linecap="round" fill="none"/>
</svg>
</body></html>
